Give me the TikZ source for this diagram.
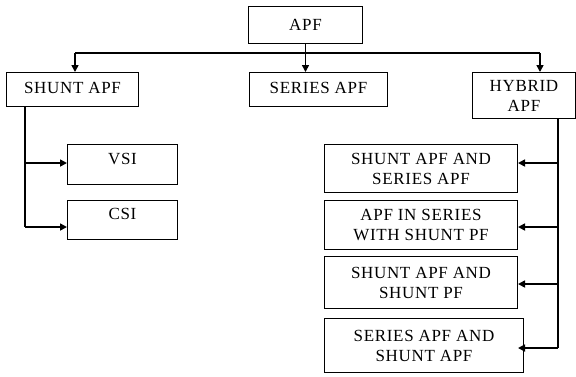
\documentclass[tikz,border=0pt]{standalone}
\usepackage{fontspec}
\setmainfont{Liberation Serif}[LetterSpace=4]
\usetikzlibrary{arrows.meta,positioning}
\tikzset{
  blockbox/.style={draw,line width=1pt,anchor=north west,align=center,inner sep=0pt,
    font=\fontsize{17}{20}\selectfont},
  feed/.style={line width=1.6pt},
  branch/.style={line width=1.6pt,-{Triangle[length=7pt,width=7pt]}}
}
\begin{document}
\begin{tikzpicture}[x=1pt,y=-1pt]
\useasboundingbox (0,0) rectangle (576,376);
% top level
\node[blockbox,minimum width=114pt,minimum height=37pt] (apf) at (248,6) {APF};
\node[blockbox,minimum width=132pt,minimum height=34pt,text depth=4pt] (shuntapf) at (6,72) {SHUNT APF};
\node[blockbox,minimum width=138pt,minimum height=34pt,text depth=4pt] (seriesapf) at (249,72) {SERIES APF};
\node[blockbox,minimum width=103pt,minimum height=46pt] (hybridapf) at (472,72) {HYBRID\\APF};
% shunt types
\node[blockbox,minimum width=110pt,minimum height=40pt,text depth=12pt] (vsi) at (67,144) {VSI};
\node[blockbox,minimum width=110pt,minimum height=39pt,text depth=12pt] (csi) at (67,200) {CSI};
% hybrid types
\node[blockbox,minimum width=193pt,minimum height=48pt] (hyb1) at (324,144) {SHUNT APF AND\\SERIES APF};
\node[blockbox,minimum width=193pt,minimum height=49pt] (hyb2) at (324,200) {APF IN SERIES\\WITH SHUNT PF};
\node[blockbox,minimum width=193pt,minimum height=52pt] (hyb3) at (324,256) {SHUNT APF AND\\SHUNT PF};
\node[blockbox,minimum width=199pt,minimum height=54pt] (hyb4) at (324,318) {SERIES APF AND\\SHUNT APF};

\coordinate (busL) at (75,53);
\coordinate (busR) at (540,53);
\draw[feed] (busL) -- (busR);
\draw[branch] (apf.south) -- (apf.south |- seriesapf.north);
\draw[branch] (busL) -- (busL |- shuntapf.north);
\draw[branch] (busR) -- (busR |- hybridapf.north);

\draw[feed] (shuntapf.south -| 25,0) -- (25,227);
\foreach \n/\y in {vsi/163,csi/227}
  \draw[branch] (25,\y) -- (\n.west |- 0,\y);

\draw[feed] (hybridapf.south -| 558,0) -- (558,348);
\foreach \n/\y in {hyb1/163,hyb2/227,hyb3/284}
  \draw[branch] (558,\y) -- (\n.east |- 0,\y);
\coordinate (hyb4tip) at ([xshift=-6pt]hyb4.east);
\draw[branch] (558,348) -- (hyb4tip |- 0,348);
\end{tikzpicture}
\end{document}
